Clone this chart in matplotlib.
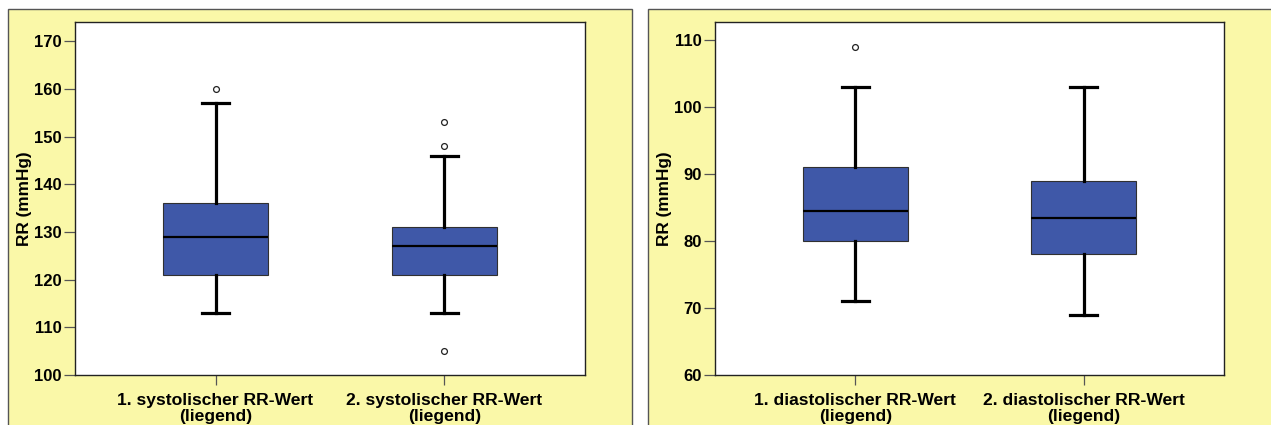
import matplotlib
matplotlib.use("Agg")
import matplotlib.pyplot as plt
from matplotlib.patches import Rectangle

# ---- data ----
sys_labels = ["1. systolischer RR-Wert\n(liegend)", "2. systolischer RR-Wert\n(liegend)"]
sys_whislo = [113, 113]
sys_q1 = [121, 121]
sys_med = [129, 127]
sys_q3 = [136, 131]
sys_whishi = [157, 146]
sys_fliers = [[160], [148, 153, 105]]
sys_yticks = [100, 110, 120, 130, 140, 150, 160, 170]

dia_labels = ["1. diastolischer RR-Wert\n(liegend)", "2. diastolischer RR-Wert\n(liegend)"]
dia_whislo = [71, 69]
dia_q1 = [80, 78]
dia_med = [84.5, 83.5]
dia_q3 = [91, 89]
dia_whishi = [103, 103]
dia_fliers = [[109], []]
dia_yticks = [60, 70, 80, 90, 100, 110]

ylabel = "RR (mmHg)"

plt.rcParams['font.family'] = ['Liberation Sans', 'DejaVu Sans']
plt.rcParams['font.weight'] = 'bold'

W, H = 1271, 425
fig = plt.figure(figsize=(W / 100, H / 100), dpi=100)
fig.patch.set_facecolor('white')

yellow = '#FAF8A8'
# panel backgrounds
for x0, x1 in [(8, 632), (648, 1285)]:
    fig.patches.append(Rectangle((x0 / W, -0.05), (x1 - x0) / W, (H - 9) / H + 0.05,
                                 transform=fig.transFigure, facecolor=yellow,
                                 edgecolor='#555555', linewidth=1.0, zorder=-10))


def make_panel(left_px, right_px, labels, whislo, q1, med, q3, whishi, fliers, ylim, yticks, ylab_px):
    ax = fig.add_axes([left_px / W, 1 - 375 / H, (right_px - left_px) / W, (375 - 22) / H])
    ax.set_zorder(1)
    ax.set_facecolor('white')
    stats = []
    for i in range(len(labels)):
        stats.append(dict(whislo=whislo[i], q1=q1[i], med=med[i], q3=q3[i],
                          whishi=whishi[i], fliers=fliers[i], label=labels[i]))
    ax.bxp(stats, positions=[1, 2], widths=0.4585, capwidths=0.118,
           patch_artist=True,
           boxprops=dict(facecolor='#3F58A8', edgecolor='#303030', linewidth=0.8),
           medianprops=dict(color='black', linewidth=1.6),
           whiskerprops=dict(color='black', linewidth=2.3),
           capprops=dict(color='black', linewidth=2.3),
           flierprops=dict(marker='o', markersize=4.2, markerfacecolor='white',
                           markeredgecolor='#222222', markeredgewidth=0.9))
    ax.set_xlim(1 - 140.5 / 229, 2 + 140.5 / 229)
    ax.set_ylim(*ylim)
    ax.set_yticks(yticks)
    ax.set_yticklabels([str(t) for t in yticks], fontsize=12, fontweight='bold')
    ax.set_xticks([1, 2])
    ax.set_xticklabels(labels, fontsize=12.6, fontweight='bold', linespacing=1.1)
    ax.tick_params(axis='y', direction='out', length=8, width=0.9, color='#555555', pad=1.5)
    ax.tick_params(axis='x', direction='out', length=7.5, width=0.9, color='#555555', pad=5.5)
    for s in ax.spines.values():
        s.set_color('#222222')
        s.set_linewidth(1.0)
    ax.set_ylabel(ylabel, fontsize=12.4, fontweight='bold')
    ax.yaxis.set_label_coords((ylab_px - left_px) / (right_px - left_px), 0.5)
    return ax


make_panel(75, 585, sys_labels, sys_whislo, sys_q1, sys_med, sys_q3, sys_whishi,
           sys_fliers, (100, 100 + 353 / 4.77), sys_yticks, 32)
make_panel(715, 1224, dia_labels, dia_whislo, dia_q1, dia_med, dia_q3, dia_whishi,
           dia_fliers, (60, 60 + 353 / 6.7), dia_yticks, 672)

fig.savefig('out.png', dpi=100)
